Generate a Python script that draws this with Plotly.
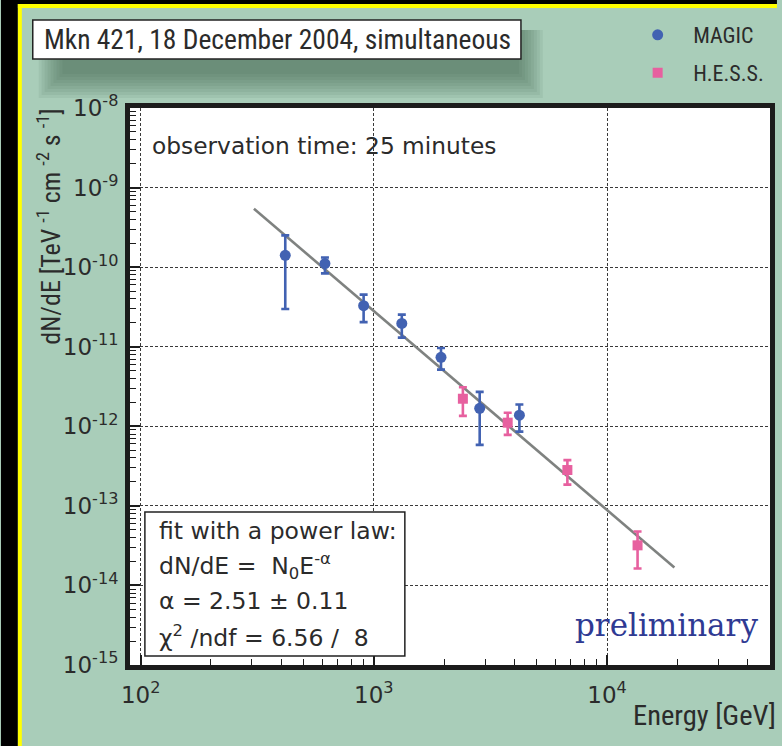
import math
import plotly.graph_objects as go

# ---- data -------------------------------------------------------------
magic_E = [417, 617, 904, 1318, 1941, 2844, 4209]                     # GeV
magic_flux = [1.41e-10, 1.11e-10, 3.28e-11, 1.96e-11, 7.35e-12, 1.68e-12, 1.38e-12]
magic_hi = [2.51e-10, 1.32e-10, 4.51e-11, 2.53e-11, 9.63e-12, 2.71e-12, 1.88e-12]
magic_lo = [2.98e-11, 8.34e-11, 2.04e-11, 1.30e-11, 5.16e-12, 5.84e-13, 8.58e-13]

hess_E = [2409, 3750, 6761, 13520]
hess_flux = [2.22e-12, 1.11e-12, 2.82e-13, 3.19e-14]
hess_hi = [3.10e-12, 1.48e-12, 3.76e-13, 4.77e-14]
hess_lo = [1.35e-12, 7.79e-13, 1.85e-13, 1.63e-14]

fit_E = [306, 19450]
fit_flux = [5.42e-10, 1.68e-14]

x_tickvals = [1e2, 1e3, 1e4]
x_ticktext = ["10<sup>2</sup>", "10<sup>3</sup>", "10<sup>4</sup>"]
y_tickvals = [10.0 ** e for e in range(-15, -7)]
y_ticktext = ["10<sup>%d</sup>" % e for e in range(-15, -7)]

# ---- geometry helpers (pixel -> paper) ---------------------------------
W, H = 782, 746
L, R, T, B = 130, 775, 108, 665


def px(x):
    return (x - L) / (R - L)


def py(y):
    return (B - y) / (B - T)


GREEN = "#a9cdb9"
BLUE = "#4262b2"
PINK = "#e7609f"
NARROW = "Liberation Sans Narrow, Roboto Condensed, Arial Narrow, sans-serif"
TEXTF = "DejaVu Sans, Verdana, sans-serif"
TICKF = "DejaVu Sans, sans-serif"

fig = go.Figure()

fig.add_trace(go.Scatter(
    x=fit_E, y=fit_flux, mode="lines",
    line=dict(color="#7f8280", width=2.6), showlegend=False, hoverinfo="skip"))

fig.add_trace(go.Scatter(
    x=magic_E, y=magic_flux, mode="markers", name="MAGIC",
    marker=dict(symbol="circle", size=11, color=BLUE),
    error_y=dict(type="data", symmetric=False,
                 array=[h - f for h, f in zip(magic_hi, magic_flux)],
                 arrayminus=[f - l for f, l in zip(magic_flux, magic_lo)],
                 color=BLUE, thickness=2.6, width=4),
    legend="legend"))

fig.add_trace(go.Scatter(
    x=hess_E, y=hess_flux, mode="markers", name="H.E.S.S.",
    marker=dict(symbol="square", size=10, color=PINK),
    error_y=dict(type="data", symmetric=False,
                 array=[h - f for h, f in zip(hess_hi, hess_flux)],
                 arrayminus=[f - l for f, l in zip(hess_flux, hess_lo)],
                 color=PINK, thickness=2.6, width=4),
    legend="legend2"))

axis_common = dict(
    type="log", showline=True, linewidth=5, linecolor="#1c1c1c", mirror=True,
    ticks="inside", ticklen=10, tickwidth=1.5, tickcolor="#1c1c1c",
    showgrid=True, gridcolor="#3a3a3a", gridwidth=1.3, griddash="3px,2px",
    zeroline=False, tickfont=dict(family=TICKF, size=23, color="#2b2b2b"),
    minor=dict(ticks="inside", ticklen=6, tickwidth=1.2, tickcolor="#1c1c1c",
               dtick="D1", showgrid=False),
)

fig.update_xaxes(range=[math.log10(90), math.log10(50000)],
                 tickmode="array", tickvals=x_tickvals, ticktext=x_ticktext,
                 ticklabelstandoff=5, **axis_common)
fig.update_yaxes(range=[-15, -8],
                 tickmode="array", tickvals=y_tickvals, ticktext=y_ticktext,
                 ticklabelstandoff=2, **axis_common)

shapes = []
# outer black margin and yellow frame
shapes.append(dict(type="rect", xref="paper", yref="paper", layer="below",
                   x0=px(0), x1=px(17), y0=py(H), y1=py(0),
                   fillcolor="black", line=dict(width=0)))
shapes.append(dict(type="rect", xref="paper", yref="paper", layer="below",
                   x0=px(0), x1=px(W), y0=py(4), y1=py(0),
                   fillcolor="black", line=dict(width=0)))
shapes.append(dict(type="rect", xref="paper", yref="paper", layer="below",
                   x0=px(17), x1=px(21), y0=py(H), y1=py(4),
                   fillcolor="#ffff00", line=dict(width=0)))
shapes.append(dict(type="rect", xref="paper", yref="paper", layer="below",
                   x0=px(17), x1=px(W), y0=py(8), y1=py(4),
                   fillcolor="#ffff00", line=dict(width=0)))
# soft shadow under the title box
for i in range(9):
    d = i * 3
    shapes.append(dict(type="rect", xref="paper", yref="paper", layer="below",
                       x0=px(38 + d), x1=px(546 - d), y0=py(98 - d), y1=py(30),
                       fillcolor="rgba(65,95,80,0.09)", line=dict(width=0)))
# title box
shapes.append(dict(type="rect", xref="paper", yref="paper", layer="below",
                   x0=px(32), x1=px(524), y0=py(59), y1=py(20),
                   fillcolor="white", line=dict(color="#222", width=1.5)))
# fit result box inside the plot
shapes.append(dict(type="rect", xref="paper", yref="paper", layer="above",
                   x0=px(145), x1=px(407), y0=py(656), y1=py(512),
                   fillcolor="white", line=dict(color="#222", width=1.5)))

annotations = []


def text(x, y, s, size, family, color="#2b2b2b", xanchor="left", **kw):
    annotations.append(dict(x=px(x), y=py(y), xref="paper", yref="paper",
                            text=s, showarrow=False, xanchor=xanchor,
                            yanchor="middle",
                            font=dict(size=size, family=family, color=color), **kw))


text(41, 40, "Mkn 421, 18 December 2004, simultaneous", 27.5, NARROW)
text(150, 145, "observation time: 25 minutes", 23.3, TEXTF)
text(157, 531, "fit with a power law:", 23.5, TEXTF)
text(157, 566, "dN/dE =  N<sub>0</sub>E<sup>-α</sup>", 23.5, TEXTF)
text(157, 601, "α = 2.51 ± 0.11", 23.5, TEXTF)
text(157, 636, "χ<sup>2</sup> /ndf = 6.56 /  8", 23.5, TEXTF)
text(765, 625, "preliminary", 31, "DejaVu Serif, Liberation Serif, serif",
     color="#2f3a93", xanchor="right")
text(783, 715, "Energy [GeV]", 28.5, NARROW, xanchor="right")
annotations.append(dict(x=px(48), y=py(227), xref="paper", yref="paper",
                        text="dN/dE [TeV <sup>-1</sup> cm <sup>-2</sup> s <sup>-1</sup>]",
                        showarrow=False, textangle=-90, xanchor="center", yanchor="middle",
                        font=dict(size=26, family=NARROW, color="#2b2b2b")))

legend_common = dict(xanchor="left", yanchor="middle", bgcolor="rgba(0,0,0,0)",
                     borderwidth=0, itemwidth=61,
                     font=dict(family=NARROW, size=22, color="#2b2b2b"))

fig.update_layout(
    width=W, height=H, autosize=False,
    margin=dict(l=L, r=W - R, t=T, b=H - B, pad=0),
    paper_bgcolor=GREEN, plot_bgcolor="white",
    shapes=shapes, annotations=annotations,
    legend=dict(x=px(626), y=py(35), **legend_common),
    legend2=dict(x=px(626), y=py(73), **legend_common),
)

fig.write_html("out.html")
